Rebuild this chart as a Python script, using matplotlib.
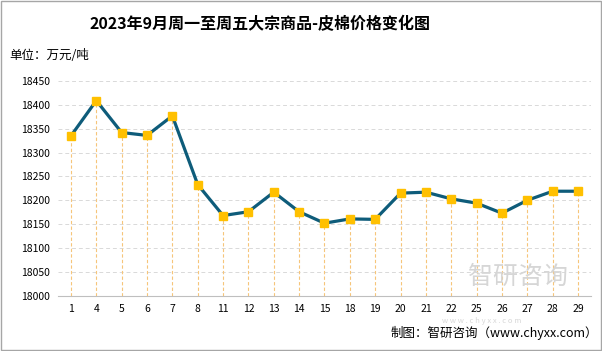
import matplotlib
matplotlib.use("Agg")
import matplotlib.pyplot as plt
from matplotlib.patches import Rectangle

plt.rcParams['font.family'] = ['Noto Sans CJK SC', 'DejaVu Sans']

# 日期（9月工作日）与皮棉价格
dias = ["1", "4", "5", "6", "7", "8", "11", "12", "13", "14", "15",
        "18", "19", "20", "21", "22", "25", "26", "27", "28", "29"]
precios = [18335, 18409, 18342, 18336, 18377, 18233, 18168, 18176, 18217, 18176, 18152,
           18161, 18160, 18215, 18217, 18203, 18194, 18173, 18200, 18219, 18219]
y_ticks = [18000, 18050, 18100, 18150, 18200, 18250, 18300, 18350, 18400, 18450]

fig = plt.figure(figsize=(6.02, 3.51), dpi=100)
ax = fig.add_axes([0.0968, 0.1575, 0.8844, 0.6117])

x = list(range(len(dias)))

# 垂直虚线
ax.vlines(x, 18000, precios, colors="#F6C57A", linestyles=(0, (3, 2)), linewidth=0.8, zorder=2)
ax.plot(x, precios, color="#0E5C7A", linewidth=2.3, zorder=3)
ax.plot(x, precios, linestyle="none", marker="s", markersize=5.5,
        markerfacecolor="#FFC000", markeredgecolor="#FFC000", zorder=4)

ax.set_xlim(-0.5, len(dias) - 0.5)
ax.set_ylim(18000, 18450)
ax.set_xticks(x)
ax.set_xticklabels(dias, fontsize=7.5)
ax.set_yticks(y_ticks)
ax.set_yticklabels([str(v) for v in y_ticks], fontsize=7.5)
ax.tick_params(length=0, pad=6)
ax.grid(axis='y', color="#D9D9D9", linestyle=(0, (4, 3)), linewidth=0.7)
for lado in ["top", "right", "left"]:
    ax.spines[lado].set_visible(False)
ax.spines["bottom"].set_color("#BFBFBF")
ax.spines["bottom"].set_linewidth(0.8)

fig.text(0.432, 0.932, "2023年9月周一至周五大宗商品-皮棉价格变化图", ha="center", va="center",
         fontsize=11.5, fontweight="bold")
fig.text(0.015, 0.843, "单位：万元/吨", ha="left", va="center", fontsize=9)

# 水印
fig.text(0.86, 0.21, "智研咨询", ha="center", va="center", fontsize=18, color="#D6D6D6", zorder=0)
fig.text(0.80, 0.085, "w w w . c h y x x . c o m", ha="center", va="center", fontsize=5.5,
         color="#D8D8D8", zorder=0)

fig.text(0.993, 0.05, "制图：智研咨询（www.chyxx.com）", ha="right", va="center", fontsize=9)

fig.patches.append(Rectangle((0.001, 0.002), 0.997, 0.995, transform=fig.transFigure,
                             fill=False, edgecolor="#A6A6A6", linewidth=1))

fig.savefig("out.png", dpi=100)
